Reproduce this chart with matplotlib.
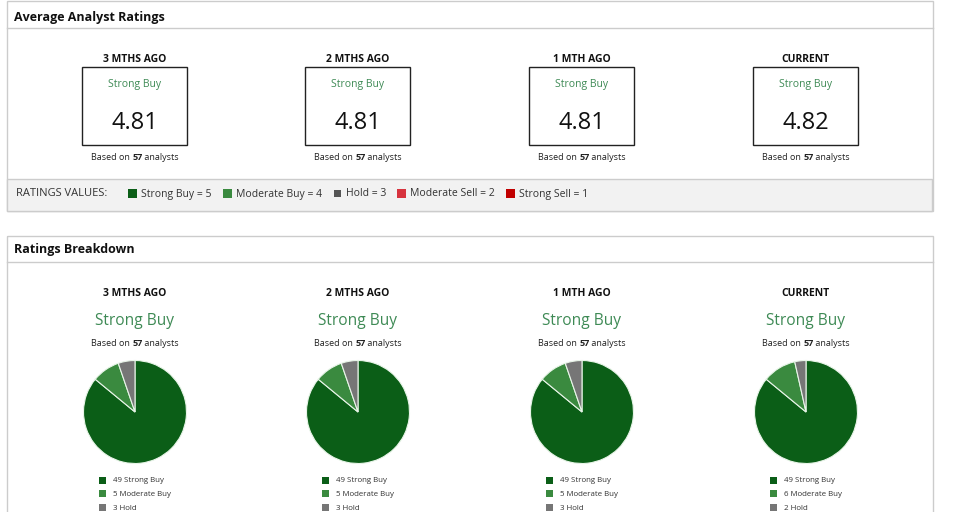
import matplotlib.pyplot as plt
from matplotlib.patches import Rectangle

plt.rcParams['font.family'] = ['Open Sans', 'DejaVu Sans']

periods = ["3 MTHS AGO", "2 MTHS AGO", "1 MTH AGO", "CURRENT"]
consensus = ["Strong Buy", "Strong Buy", "Strong Buy", "Strong Buy"]
avg_rating = [4.81, 4.81, 4.81, 4.82]
n_analysts = [57, 57, 57, 57]
strong_buy = [49, 49, 49, 49]
moderate_buy = [5, 5, 5, 6]
hold = [3, 3, 3, 2]

scale_names = ["Strong Buy", "Moderate Buy", "Hold", "Moderate Sell", "Strong Sell"]
scale_values = [5, 4, 3, 2, 1]

colors = {"Strong Buy": "#0b5e17", "Moderate Buy": "#3a8a3f", "Hold": "#767676",
          "Moderate Sell": "#d7333e", "Strong Sell": "#c10000"}
text_green = "#3e8a55"
border = "#cccccc"

W, H = 954, 512
fig = plt.figure(figsize=(W / 100, H / 100), dpi=100)
ax = fig.add_axes([0, 0, 1, 1])
ax.set_xlim(0, W)
ax.set_ylim(H, 0)
ax.axis("off")

renderer = fig.canvas.get_renderer()
dy = 2  # open sans sits a bit high with va=center


def txt(x, y, s, **kw):
    kw.setdefault("va", "center")
    return ax.text(x, y + dy, s, **kw)


def rich_text(x, y, parts, size):
    # draw pieces, measure them, then shift so the whole line is centred on x
    items = []
    for s, w in parts:
        t = txt(0, y, s, fontsize=size, fontweight=w, ha="left", color="#222222")
        items.append(t)
    widths = [t.get_window_extent(renderer).width for t in items]
    left = x - sum(widths) / 2
    for t, wd in zip(items, widths):
        t.set_x(left)
        left += wd


col_x = [135, 358, 582, 806]

# ---- panel 1: average ratings
ax.add_patch(Rectangle((7, 1), 926, 210, fill=False, ec=border, lw=1))
ax.plot([7, 933], [28, 28], color=border, lw=1)
txt(14, 15, "Average Analyst Ratings", fontsize=9, fontweight="bold", color="#111111")
ax.add_patch(Rectangle((7.5, 179), 925, 32, fc="#f2f2f2", ec=border, lw=1))

for i, cx in enumerate(col_x):
    txt(cx, 57, periods[i], fontsize=7.5, fontweight="bold", ha="center", color="#111111")
    ax.add_patch(Rectangle((cx - 52.5, 67), 105, 78, fill=False, ec="#222222", lw=1))
    txt(cx, 82, consensus[i], fontsize=7.5, ha="center", color=text_green)
    txt(cx, 121, "%.2f" % avg_rating[i], fontsize=17, ha="center", color="#111111")
    rich_text(cx, 155, [("Based on ", "normal"), (str(n_analysts[i]), "bold"), (" analysts", "normal")], 6.5)

txt(16, 192, "RATINGS VALUES:", fontsize=8, color="#333333")
leg_x = [128, 223, 333, 397, 506]
for name, val, lx in zip(scale_names, scale_values, leg_x):
    sz = 7 if name == "Hold" else 9
    c = "#555555" if name == "Hold" else colors[name]
    ax.add_patch(Rectangle((lx + (9 - sz) / 2, 193 - sz / 2), sz, sz, color=c, lw=0))
    txt(lx + 13, 192, "%s = %d" % (name, val), fontsize=7.5, color="#333333")

# ---- panel 2: breakdown pies
ax.add_patch(Rectangle((7, 236), 926, 290, fill=False, ec=border, lw=1))
ax.plot([7, 933], [262, 262], color=border, lw=1)
txt(14, 248, "Ratings Breakdown", fontsize=9, fontweight="bold", color="#111111")

r = 52
cy = 412
for i, cx in enumerate(col_x):
    txt(cx, 291, periods[i], fontsize=7.5, fontweight="bold", ha="center", color="#111111")
    txt(cx, 319, consensus[i], fontsize=11.2, ha="center", color=text_green)
    rich_text(cx, 341, [("Based on ", "normal"), (str(n_analysts[i]), "bold"), (" analysts", "normal")], 6.5)

    pax = fig.add_axes([(cx - r) / W, 1 - (cy + r) / H, 2 * r / W, 2 * r / H])
    vals = [strong_buy[i], moderate_buy[i], hold[i]]
    names = ["Strong Buy", "Moderate Buy", "Hold"]
    pax.pie(vals, colors=[colors[n] for n in names], startangle=90, counterclock=False,
            wedgeprops=dict(edgecolor="#e8f5e8", linewidth=0.8))
    pax.set_xlim(-1.01, 1.01)
    pax.set_ylim(-1.01, 1.01)
    pax.set_aspect("auto")
    pax.axis("off")

    for j, (n, v) in enumerate(zip(names, vals)):
        ly = 480 + j * 13.5
        ax.add_patch(Rectangle((cx - 36, ly - 3.5), 7, 7, color=colors[n], lw=0))
        txt(cx - 22, ly - 1, "%d %s" % (v, n), fontsize=5.7, color="#333333")

fig.savefig("out.png", dpi=100)
